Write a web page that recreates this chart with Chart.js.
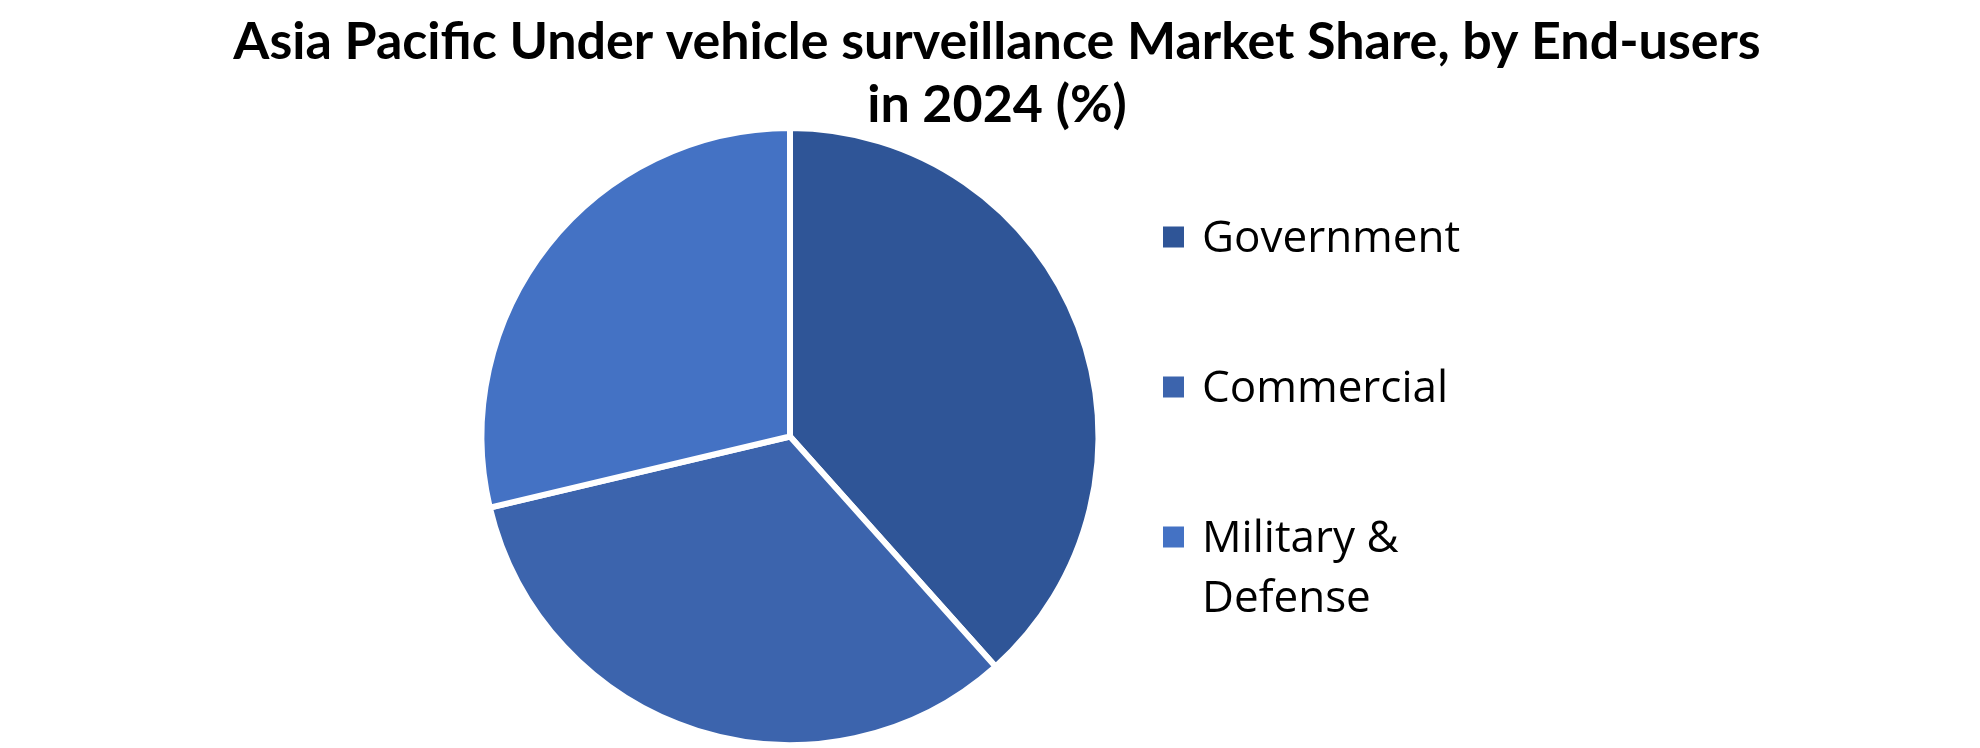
<!DOCTYPE html>
<html>
<head>
<meta charset="utf-8">
<script src="https://cdn.jsdelivr.net/npm/chart.js@4"></script>
<style>
  html, body { margin: 0; padding: 0; background: #ffffff; }
  #wrap { width: 1980px; height: 748px; position: relative; }
</style>
</head>
<body>
<div id="wrap"><canvas id="c" width="1980" height="748"></canvas></div>
<script>
const titleLines = ["Asia Pacific Under vehicle surveillance Market Share, by End-users", "in 2024 (%)"];
const categories = ["Government", "Commercial", "Military & Defense"];
const legendLines = [["Government"], ["Commercial"], ["Military &", "Defense"]];
const shares = [38.4, 32.9, 28.7];
const colors = ["#2F5597", "#3C64AD", "#4472C4"];

const titleDraw = {
  id: 'titleDraw',
  afterDraw(chart) {
    const ctx = chart.ctx;
    ctx.save();
    ctx.font = 'bold 52px Lato';
    ctx.fillStyle = '#000000';
    ctx.textAlign = 'center';
    ctx.textBaseline = 'alphabetic';
    const baselines = [59, 122];
    titleLines.forEach((t, i) => ctx.fillText(t, 997, baselines[i]));
    ctx.restore();
  }
};

const sideLegend = {
  id: 'sideLegend',
  afterDraw(chart) {
    const ctx = chart.ctx;
    const x0 = 1163, box = 21, textX = 1202;
    const rowY = [237, 387, 537];
    const lineH = 60;
    ctx.save();
    ctx.font = '400 44px "Open Sans"';
    ctx.textBaseline = 'middle';
    ctx.textAlign = 'left';
    categories.forEach((c, i) => {
      ctx.fillStyle = chart.data.datasets[0].backgroundColor[i];
      ctx.fillRect(x0, rowY[i] - box / 2, box, box);
      ctx.fillStyle = '#000000';
      legendLines[i].forEach((ln, j) => {
        ctx.fillText(ln, textX, rowY[i] + j * lineH + 2);
      });
    });
    ctx.restore();
  }
};

new Chart(document.getElementById('c'), {
  type: 'pie',
  data: {
    labels: categories,
    datasets: [{
      data: shares,
      backgroundColor: colors,
      borderColor: '#ffffff',
      borderWidth: 6
    }]
  },
  options: {
    responsive: false,
    animation: false,
    layout: { padding: { left: 478, right: 878, top: 125, bottom: 0 } },
    plugins: {
      legend: { display: false },
      tooltip: { enabled: false },
      title: { display: false }
    }
  },
  plugins: [titleDraw, sideLegend]
});
</script>
</body>
</html>
